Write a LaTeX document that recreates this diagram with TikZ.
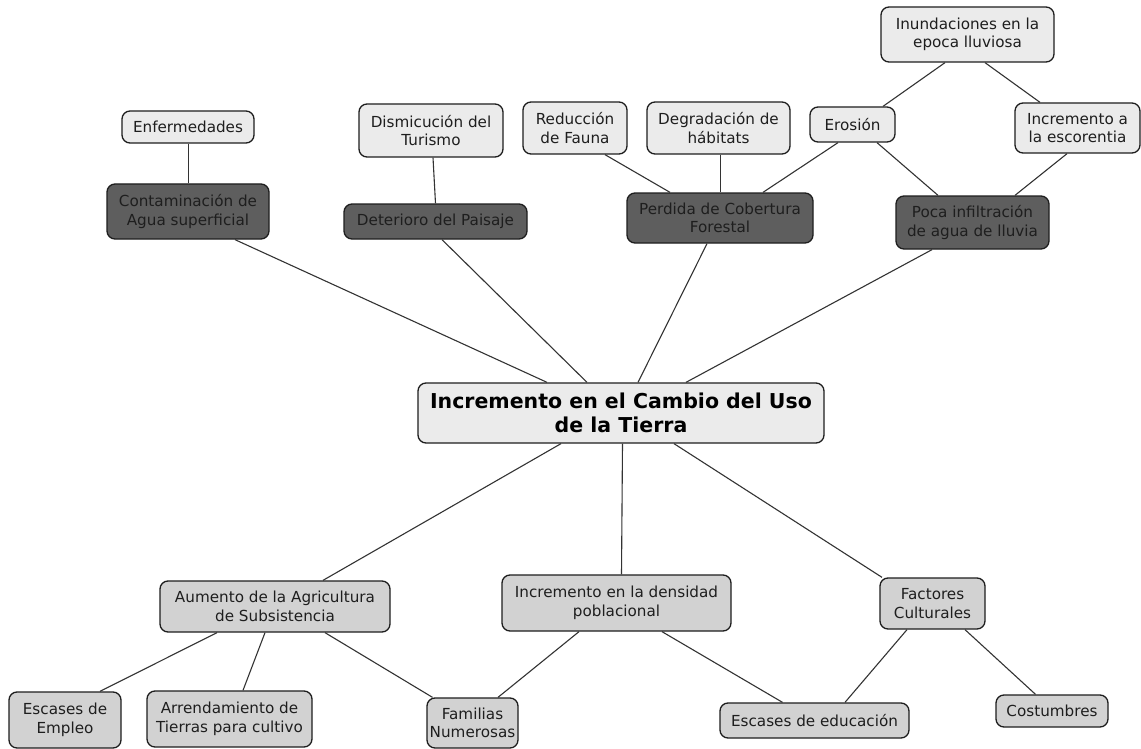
\documentclass[tikz,border=0pt]{standalone}
\usepackage{fontspec}
\setmainfont{DejaVu Sans}
\definecolor{paleFill}{HTML}{EBEBEB}
\definecolor{midFill}{HTML}{D2D2D2}
\definecolor{darkFill}{HTML}{5E5E5E}
\definecolor{inkCol}{HTML}{1E1E1E}
\definecolor{lineCol}{HTML}{333333}
\tikzset{
  box/.style={draw=inkCol, line width=1.3pt, rounded corners=8pt, align=center,
    inner sep=0pt, text=inkCol, font=\fontsize{15.2}{18.5}\selectfont},
  pale/.style={box, fill=paleFill},
  mid/.style={box, fill=midFill},
  dark/.style={box, fill=darkFill},
  core/.style={box, fill=paleFill, font=\fontsize{20.5}{24}\selectfont\bfseries, text=black},
  sz/.style 2 args={minimum width=#1pt, minimum height=#2pt},
  link/.style={draw=lineCol, line width=1.1pt}
}
\begin{document}
\begin{tikzpicture}[x=1pt, y=-1pt]
\useasboundingbox[fill=white] (0,0) rectangle (1141,749);

% central concept
\node[core, sz={406}{60}] (cen) at (621,413) {Incremento en el Cambio del Uso\\de la Tierra};

% upper branch: effects
\node[pale, sz={132}{32}] (enf) at (188,127) {Enfermedades};
\node[dark, sz={162}{55}] (cont) at (188,211.5) {Contaminación de\\Agua superficial};
\node[pale, sz={144}{53}] (dism) at (431,130.5) {Dismicución del\\Turismo};
\node[dark, sz={183}{35}] (det) at (435.5,221.5) {Deterioro del Paisaje};
\node[pale, sz={104}{52}] (red) at (575,128) {Reducción\\de Fauna};
\node[pale, sz={143}{52}] (deg) at (718.5,128) {Degradación de\\hábitats};
\node[dark, sz={186}{50}] (perd) at (720,218) {Perdida de Cobertura\\Forestal};
\node[pale, sz={173}{55}] (inun) at (967.5,34.5) {Inundaciones en la\\epoca lluviosa};
\node[pale, sz={85}{35}] (eros) at (852.5,124.5) {Erosión};
\node[pale, sz={125}{50}] (esco) at (1077.5,128) {Incremento a\\la escorentia};
\node[dark, sz={153}{53}] (poca) at (972.5,222.5) {Poca infiltración\\de agua de lluvia};

% lower branch: causes
\node[mid, sz={230}{51}] (agri) at (275,606.5) {Aumento de la Agricultura\\de Subsistencia};
\node[mid, sz={229}{56}] (dens) at (616.5,603) {Incremento en la densidad\\poblacional};
\node[mid, sz={105}{51}] (fact) at (932.5,603.5) {Factores\\Culturales};
\node[mid, sz={112}{56}] (empl) at (65,720) {Escases de\\Empleo};
\node[mid, sz={165}{56}] (arre) at (229.5,719) {Arrendamiento de\\Tierras para cultivo};
\node[mid, sz={91}{50}] (fami) at (472.5,723) {Familias\\Numerosas};
\node[mid, sz={189}{35}] (educ) at (814.5,720.5) {Escases de educación};
\node[mid, sz={112}{32}] (cost) at (1052,711) {Costumbres};

% connectors, upper part
\draw[link] ([xshift=0.5pt]enf.south) -- ([xshift=0.5pt]cont.north);
\draw[link] ([xshift=47pt]cont.south) -- ([xshift=-74pt]cen.north);
\draw[link] ([xshift=2pt]dism.south) -- (det.north);
\draw[link] ([xshift=6.5pt]det.south) -- ([xshift=-34pt]cen.north);
\draw[link] ([xshift=30pt]red.south) -- ([xshift=-50pt]perd.north);
\draw[link] ([xshift=2pt]deg.south) -- ([xshift=0.5pt]perd.north);
\draw[link] ([xshift=-13pt]perd.south) -- ([xshift=17pt]cen.north);
\draw[link] ([xshift=-22.5pt]inun.south) -- ([xshift=30.5pt]eros.north);
\draw[link] ([xshift=17.5pt]inun.south) -- ([xshift=-37.5pt]esco.north);
\draw[link] ([xshift=-14.5pt]eros.south) -- ([xshift=43pt]perd.north);
\draw[link] ([xshift=24.5pt]eros.south) -- ([xshift=-34.5pt]poca.north);
\draw[link] ([xshift=-10.5pt]esco.south) -- ([xshift=42.5pt]poca.north);
\draw[link] ([xshift=-40.5pt]poca.south) -- ([xshift=65pt]cen.north);

% connectors, lower part
\draw[link] ([xshift=-60pt]cen.south) -- ([xshift=48pt]agri.north);
\draw[link] ([xshift=1.5pt]cen.south) -- ([xshift=5pt]dens.north);
\draw[link] ([xshift=53pt]cen.south) -- ([xshift=-50.5pt]fact.north);
\draw[link] ([xshift=-58pt]agri.south) -- ([xshift=35pt]empl.north);
\draw[link] ([xshift=-10pt]agri.south) -- ([xshift=13.5pt]arre.north);
\draw[link] ([xshift=50pt]agri.south) -- ([xshift=-40pt]fami.north);
\draw[link] ([xshift=-37.5pt]dens.south) -- ([xshift=25.5pt]fami.north);
\draw[link] ([xshift=45.5pt]dens.south) -- ([xshift=-32pt]educ.north);
\draw[link] ([xshift=-25.5pt]fact.south) -- ([xshift=30.5pt]educ.north);
\draw[link] ([xshift=32.5pt]fact.south) -- ([xshift=-16.5pt]cost.north);
\end{tikzpicture}
\end{document}
